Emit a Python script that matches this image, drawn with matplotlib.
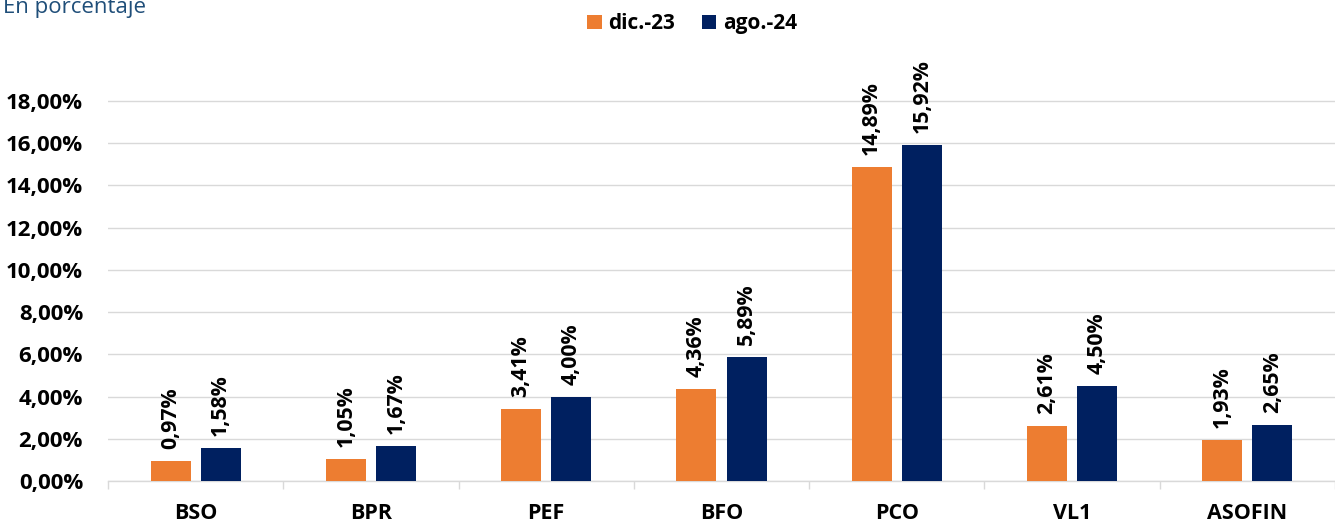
import matplotlib
matplotlib.use("Agg")
import matplotlib.pyplot as plt
import numpy as np

categories = ["BSO", "BPR", "PEF", "BFO", "PCO", "VL1", "ASOFIN"]
dic23 = [0.97, 1.05, 3.41, 4.36, 14.89, 2.61, 1.93]
ago24 = [1.58, 1.67, 4.00, 5.89, 15.92, 4.50, 2.65]
series_names = ["dic.-23", "ago.-24"]
yticks = [0, 2, 4, 6, 8, 10, 12, 14, 16, 18]

ORANGE = "#ED7D31"
NAVY = "#002060"
FONT = "Open Sans"

def fmt(v):
    return f"{v:.2f}".replace(".", ",") + "%"

fig = plt.figure(figsize=(13.35, 5.22), dpi=100)
ax = fig.add_axes([108/1335, 1-481/522, 1-108/1335, 380/522*19.3/18])

x = np.arange(len(categories))
w = 0.228
off = 0.143
b1 = ax.bar(x - off, dic23, w, color=ORANGE, zorder=3)
b2 = ax.bar(x + off, ago24, w, color=NAVY, zorder=3)

for bars, vals in ((b1, dic23), (b2, ago24)):
    for r, v in zip(bars, vals):
        ax.annotate(fmt(v), (r.get_x() + r.get_width()/2, v), xytext=(0, 8.5),
                    textcoords="offset points", rotation=90, ha="center", va="bottom",
                    fontsize=15.3, fontweight="bold", family=FONT, color="black")

ax.set_xlim(-0.5, len(categories) - 0.5)
ax.set_ylim(0, 19.3)
ax.set_yticks(yticks)
ax.set_yticklabels([fmt(v) for v in yticks], fontsize=16, fontweight="bold", family=FONT)
ax.yaxis.grid(True, color="#D9D9D9", linewidth=1, zorder=0)
ax.tick_params(axis="y", length=0, pad=18)
ax.set_xticks(x)
ax.set_xticklabels(categories, fontsize=15.5, fontweight="bold", family=FONT)
ax.set_xticks(np.arange(len(categories) + 1) - 0.5, minor=True)
ax.tick_params(axis="x", which="major", length=0, pad=16)
ax.tick_params(axis="x", which="minor", length=6, color="#D9D9D9", width=1)
for s in ("top", "right", "left"):
    ax.spines[s].set_visible(False)
ax.spines["bottom"].set_color("#D9D9D9")
ax.spines["bottom"].set_linewidth(1)

leg = fig.legend([b1, b2], series_names, loc="center", bbox_to_anchor=(692/1335, 1-24/522),
                 ncol=2, frameon=False, handlelength=0.7, handleheight=0.7,
                 handletextpad=0.3, columnspacing=1.3,
                 prop={"family": FONT, "weight": "bold", "size": 15})

fig.text(0.002, 1-13/522, "En porcentaje", fontsize=16, family=FONT, color="#1F4E79",
         ha="left", va="baseline")

fig.savefig("out.png", dpi=100, facecolor="white")
